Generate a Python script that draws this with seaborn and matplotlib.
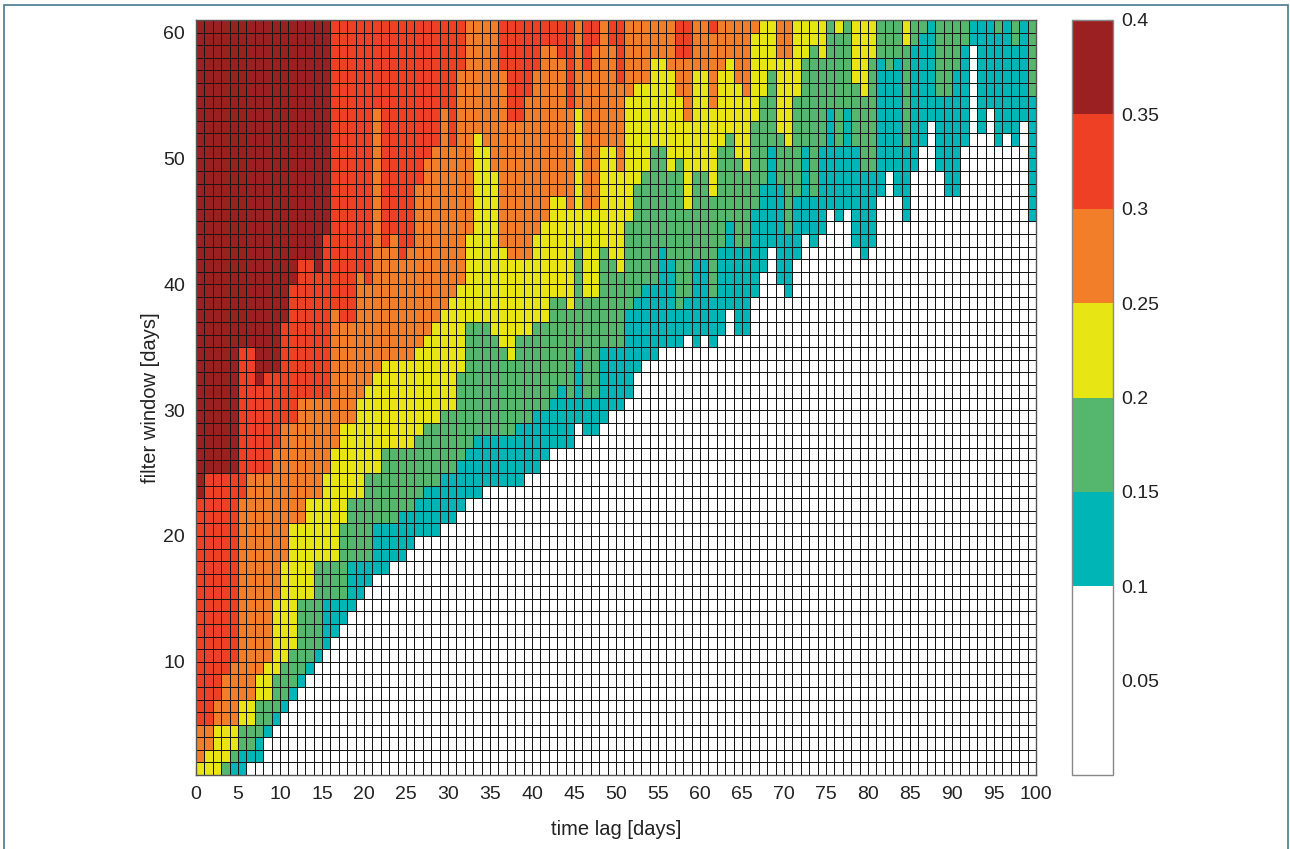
import numpy as np
import pandas as pd
import matplotlib
matplotlib.use("Agg")
import matplotlib.pyplot as plt
from matplotlib.colors import ListedColormap
from matplotlib.patches import Rectangle
import seaborn as sns

# time lag columns 0..99, filter window rows 1..60
time_lag = list(range(100))
filter_window = list(range(1, 61))

# for every time-lag column: the lowest filter window at which the value
# reaches the next colour class (61 = never reached)
win_010 = [1, 1, 1, 1, 1, 1, 2, 2, 4, 5, 6, 7, 8, 9, 10, 11, 12, 13, 14, 15,
           16, 17, 17, 18, 18, 19, 20, 20, 20, 21, 21, 22, 23, 23, 24, 24, 24, 24, 24, 25,
           25, 26, 27, 27, 27, 29, 28, 28, 29, 30, 30, 31, 33, 34, 34, 35, 35, 35, 36, 35,
           36, 35, 36, 38, 36, 36, 39, 41, 43, 40, 39, 42, 44, 43, 44, 46, 45, 46, 43, 42,
           43, 47, 49, 47, 45, 49, 51, 53, 49, 47, 47, 51, 59, 52, 54, 51, 52, 51, 53, 45]
win_015 = [1, 1, 1, 1, 2, 3, 3, 4, 5, 6, 7, 8, 9, 10, 11, 15, 15, 15, 18, 18,
           18, 21, 21, 21, 22, 22, 23, 24, 24, 25, 25, 26, 27, 28, 28, 28, 28, 28, 29, 29,
           30, 30, 31, 32, 31, 35, 31, 31, 35, 35, 35, 38, 39, 40, 40, 43, 42, 38, 39, 42,
           42, 39, 43, 45, 43, 43, 46, 48, 51, 48, 44, 47, 51, 47, 51, 54, 51, 54, 51, 49,
           49, 58, 57, 58, 51, 59, 60, 61, 55, 55, 57, 59, 61, 61, 61, 60, 61, 59, 61, 55]
win_020 = [1, 1, 1, 2, 3, 5, 5, 7, 7, 9, 10, 11, 15, 15, 18, 18, 18, 21, 23, 23,
           25, 25, 27, 27, 27, 27, 28, 29, 29, 30, 30, 33, 37, 37, 37, 36, 35, 34, 36, 36,
           37, 37, 39, 39, 38, 43, 39, 39, 43, 42, 41, 45, 48, 49, 51, 51, 49, 50, 46, 49,
           49, 47, 51, 52, 50, 49, 53, 55, 57, 52, 51, 55, 58, 59, 58, 61, 60, 61, 56, 55,
           58, 61, 61, 61, 59, 61, 61, 61, 61, 61, 61, 61, 61, 61, 61, 61, 61, 61, 61, 61]
win_025 = [2, 3, 5, 5, 5, 7, 7, 9, 10, 15, 18, 21, 21, 23, 23, 25, 27, 29, 29, 31,
           32, 33, 34, 34, 34, 34, 35, 36, 37, 38, 39, 40, 44, 52, 51, 49, 43, 42, 42, 42,
           44, 45, 47, 47, 46, 54, 46, 46, 51, 51, 49, 55, 56, 56, 58, 58, 57, 55, 53, 57,
           57, 54, 57, 58, 56, 55, 60, 61, 61, 58, 58, 61, 61, 61, 61, 61, 61, 61, 61, 61,
           61, 61, 61, 61, 61, 61, 61, 61, 61, 61, 61, 61, 61, 61, 61, 61, 61, 61, 61, 61]
win_030 = [5, 5, 7, 9, 10, 23, 25, 25, 25, 27, 29, 29, 31, 31, 31, 31, 38, 37, 37, 41,
           40, 54, 43, 44, 42, 43, 48, 50, 51, 54, 51, 57, 61, 61, 61, 61, 57, 53, 53, 55,
           57, 59, 59, 58, 54, 61, 57, 59, 61, 59, 56, 61, 61, 61, 61, 61, 61, 58, 58, 61,
           61, 60, 61, 61, 61, 61, 61, 61, 61, 61, 61, 61, 61, 61, 61, 61, 61, 61, 61, 61,
           61, 61, 61, 61, 61, 61, 61, 61, 61, 61, 61, 61, 61, 61, 61, 61, 61, 61, 61, 61]
win_035 = [23, 25, 25, 25, 25, 35, 35, 32, 33, 33, 37, 40, 42, 42, 41, 44, 61, 61, 61, 61,
           61, 61, 61, 61, 61, 61, 61, 61, 61, 61, 61, 61, 61, 61, 61, 61, 61, 61, 61, 61,
           61, 61, 61, 61, 61, 61, 61, 61, 61, 61, 61, 61, 61, 61, 61, 61, 61, 61, 61, 61,
           61, 61, 61, 61, 61, 61, 61, 61, 61, 61, 61, 61, 61, 61, 61, 61, 61, 61, 61, 61,
           61, 61, 61, 61, 61, 61, 61, 61, 61, 61, 61, 61, 61, 61, 61, 61, 61, 61, 61, 61]

# value drawn for each class (middle of its colour band)
class_values = [0.05, 0.125, 0.175, 0.225, 0.275, 0.325, 0.375]
class_colors = ["#ffffff", "#ffffff", "#00b5b6", "#55b66d", "#e8e515",
                "#f37e29", "#ee4024", "#9b2021"]
cbar_ticks = [0.05, 0.1, 0.15, 0.2, 0.25, 0.3, 0.35, 0.4]
cbar_labels = ["0.05", "0.1", "0.15", "0.2", "0.25", "0.3", "0.35", "0.4"]
xtick_vals = list(range(0, 101, 5))
ytick_vals = [10, 20, 30, 40, 50, 60]

thresholds = np.array([win_010, win_015, win_020, win_025, win_030, win_035])
rows = np.array(filter_window)[::-1]  # top row first
level = (rows[:, None, None] >= thresholds.T[None, :, :]).sum(axis=2)
grid = pd.DataFrame(np.array(class_values)[level], index=rows, columns=time_lag)

sns.set_style("white")
plt.rcParams["font.family"] = ["Liberation Sans", "DejaVu Sans"]

fig = plt.figure(figsize=(12.9, 8.49), dpi=100)
ax = fig.add_axes([196 / 1290, 74 / 849, 840 / 1290, 755 / 849])
cax = fig.add_axes([1072 / 1290, 74 / 849, 41 / 1290, 755 / 849])

sns.heatmap(grid, ax=ax, cbar_ax=cax, cmap=ListedColormap(class_colors),
            vmin=0, vmax=0.4, linewidths=0.6, linecolor="#161616",
            xticklabels=False, yticklabels=False)

ax.set_xticks(xtick_vals)
ax.set_xticklabels([str(v) for v in xtick_vals])
ax.set_yticks([61 - v for v in ytick_vals])
ax.set_yticklabels([str(v) for v in ytick_vals], rotation=0)
ax.tick_params(direction="in", length=5, labelsize=14, colors="#222222",
               bottom=True, left=True, pad=8)
ax.set_xlabel("time lag [days]", fontsize=14.5, color="#222222", labelpad=12)
ax.set_ylabel("filter window [days]", fontsize=14.5, color="#222222", labelpad=2)
for sp in ax.spines.values():
    sp.set_visible(True)
    sp.set_color("#555555")
    sp.set_linewidth(1.0)

cbar = ax.collections[0].colorbar
cbar.set_ticks(cbar_ticks)
cbar.set_ticklabels(cbar_labels)
cbar.ax.tick_params(direction="in", length=5, left=True, right=True,
                    labelsize=14, colors="#222222", pad=6)
cbar.outline.set_edgecolor("#888888")
cbar.outline.set_linewidth(1.0)

# thin frame around the whole figure
fig.patches.append(Rectangle((4 / 1290, -0.02), 1284 / 1290, 844 / 849 + 0.02,
                             transform=fig.transFigure, fill=False,
                             edgecolor="#4a7890", linewidth=1.2))

fig.savefig("out.png", dpi=100)
